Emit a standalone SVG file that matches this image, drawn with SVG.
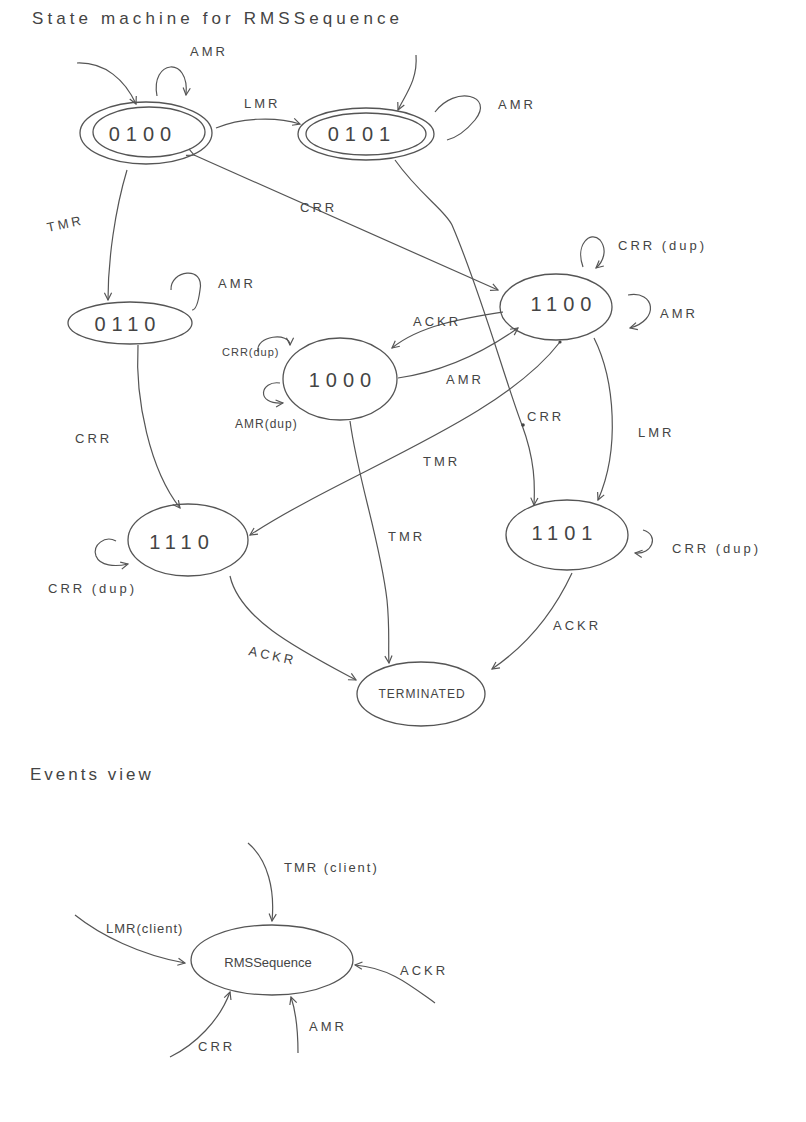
<svg xmlns="http://www.w3.org/2000/svg" width="806" height="1122" viewBox="0 0 806 1122">
<defs>
<marker id="arr" viewBox="0 0 10 10" refX="9" refY="5" markerWidth="9" markerHeight="9" orient="auto" markerUnits="userSpaceOnUse">
<path d="M1,1 L9,5 L1,9" fill="none" stroke="#555" stroke-width="1.3"/>
</marker>
</defs>
<style>
.n{fill:none;stroke:#555;stroke-width:1.3}
.e{fill:none;stroke:#555;stroke-width:1.2}
.t{font-family:"Liberation Sans",Arial,sans-serif;fill:#444}
.nl{font-size:20px;letter-spacing:6px;text-anchor:middle}
.l{font-size:13px;letter-spacing:3px}
.h{font-size:17px;letter-spacing:3px}
</style>
<rect width="806" height="1122" fill="#fff"/>
<text class="t h" x="32" y="24" textLength="370">State machine for RMSSequence</text>
<text class="t h" x="30" y="780">Events view</text>

<g id="connectors">
<path class="e" d="M77,63 C105,62 125,80 136,104" marker-end="url(#arr)"/>
<path class="e" d="M157,96 C150,60 190,55 186,95" marker-end="url(#arr)"/>
<path class="e" d="M216,128 C240,118 275,116 300,124" marker-end="url(#arr)"/>
<path class="e" d="M416,55 C418,80 405,95 398,110" marker-end="url(#arr)"/>
<path class="e" d="M435,112 C455,85 495,95 475,120 C465,132 455,138 447,140"/>
<path class="e" d="M127,170 C115,210 108,260 108,300" marker-end="url(#arr)"/>
<path class="e" d="M194,155 L498,290" marker-start="url(#arr)" marker-end="url(#arr)"/>
<path class="e" d="M395,160 C420,195 445,210 452,225 C480,290 505,380 522,425 C535,460 535,485 534,505" marker-end="url(#arr)"/>
<path class="e" d="M138,345 C135,400 150,470 180,508" marker-end="url(#arr)"/>
<path class="e" d="M171,290 C170,270 205,265 200,290 C198,305 195,310 192,310"/>
<path class="e" d="M503,312 C465,318 420,325 392,348" marker-end="url(#arr)"/>
<path class="e" d="M398,378 C440,372 480,355 518,328" marker-end="url(#arr)"/>
<path class="e" d="M560,342 C500,420 350,470 250,535" marker-end="url(#arr)"/>
<path class="e" d="M350,421 C358,480 380,540 387,600 C390,630 388,650 389,663" marker-end="url(#arr)"/>
<path class="e" d="M594,338 C615,380 620,450 598,500" marker-end="url(#arr)"/>
<path class="e" d="M572,573 C550,620 520,650 492,669" marker-end="url(#arr)"/>
<path class="e" d="M230,576 C240,620 300,650 356,680" marker-end="url(#arr)"/>
<path class="e" d="M583,267 C575,245 590,230 600,240 C608,250 603,262 596,268" marker-end="url(#arr)"/>
<path class="e" d="M628,295 C655,290 660,320 630,328" marker-end="url(#arr)"/>
<path class="e" d="M643,530 C660,535 652,555 635,553" marker-end="url(#arr)"/>
<path class="e" d="M280,383 C260,380 255,405 283,403" marker-end="url(#arr)"/>
<path class="e" d="M258,352 C255,335 290,332 290,345" marker-end="url(#arr)"/>
<path class="e" d="M116,541 C105,535 92,545 96,556 C100,566 115,567 128,564" marker-end="url(#arr)"/>
<path class="e" d="M248,843 C268,860 275,890 272,921" marker-end="url(#arr)"/>
<path class="e" d="M75,915 C100,935 140,955 185,963" marker-end="url(#arr)"/>
<path class="e" d="M435,1003 C410,985 390,968 355,965" marker-end="url(#arr)"/>
<path class="e" d="M170,1057 C195,1045 220,1020 230,992" marker-end="url(#arr)"/>
<path class="e" d="M298,1053 C298,1035 296,1012 291,997" marker-end="url(#arr)"/>
<circle cx="523" cy="425" r="1.8" fill="#444"/>
<circle cx="560" cy="342" r="1.6" fill="#444"/>
</g>

<g id="labels">
<text class="t l" x="190" y="56">AMR</text>
<text class="t l" x="244" y="108">LMR</text>
<text class="t l" x="498" y="109">AMR</text>
<text class="t l" x="48" y="232" transform="rotate(-12 48 232)">TMR</text>
<text class="t l" x="300" y="212">CRR</text>
<text class="t l" x="218" y="288">AMR</text>
<text class="t l" x="618" y="250">CRR (dup)</text>
<text class="t l" x="660" y="318">AMR</text>
<text class="t l" x="413" y="326">ACKR</text>
<text class="t l" x="222" y="356" style="font-size:11px;letter-spacing:1px">CRR(dup)</text>
<text class="t l" x="446" y="384">AMR</text>
<text class="t l" x="235" y="428" style="font-size:12px;letter-spacing:1px">AMR(dup)</text>
<text class="t l" x="527" y="421">CRR</text>
<text class="t l" x="75" y="443">CRR</text>
<text class="t l" x="423" y="466">TMR</text>
<text class="t l" x="638" y="437">LMR</text>
<text class="t l" x="388" y="541">TMR</text>
<text class="t l" x="672" y="553">CRR (dup)</text>
<text class="t l" x="48" y="593">CRR (dup)</text>
<text class="t l" x="553" y="630">ACKR</text>
<text class="t l" x="248" y="655" transform="rotate(12 248 655)">ACKR</text>
<text class="t l" x="284" y="872" style="letter-spacing:2px">TMR (client)</text>
<text class="t l" x="106" y="933" style="letter-spacing:1px">LMR(client)</text>
<text class="t l" x="400" y="975">ACKR</text>
<text class="t l" x="198" y="1051">CRR</text>
<text class="t l" x="309" y="1031">AMR</text>
</g>

<g id="n0100">
<ellipse class="n" cx="146" cy="133" rx="66" ry="31"/>
<ellipse class="n" cx="149" cy="132" rx="56" ry="25"/>
<text class="t nl" x="143" y="141">0100</text>
</g>
<g id="n0101">
<ellipse class="n" cx="366" cy="134" rx="68" ry="26"/>
<ellipse class="n" cx="366" cy="134" rx="60" ry="21"/>
<text class="t nl" x="362" y="141">0101</text>
</g>
<g id="n0110">
<ellipse class="n" cx="130" cy="323" rx="62" ry="21"/>
<text class="t nl" x="128" y="331">0110</text>
</g>
<g id="n1000">
<ellipse class="n" cx="340" cy="379" rx="57" ry="41"/>
<text class="t nl" x="343" y="387">1000</text>
</g>
<g id="n1100">
<ellipse class="n" cx="556" cy="307" rx="56" ry="33"/>
<text class="t nl" x="564" y="311">1100</text>
</g>
<g id="n1110">
<ellipse class="n" cx="188" cy="540" rx="60" ry="36"/>
<text class="t nl" x="182" y="549">1110</text>
</g>
<g id="n1101">
<ellipse class="n" cx="567" cy="535" rx="61" ry="35"/>
<text class="t nl" x="565" y="540">1101</text>
</g>
<g id="nTERMINATED">
<ellipse class="n" cx="421" cy="694" rx="64" ry="32"/>
<text class="t" x="422" y="698" text-anchor="middle" style="font-size:12px;letter-spacing:1px">TERMINATED</text>
</g>
<g id="nRMSSequence">
<ellipse class="n" cx="272" cy="960" rx="81" ry="35"/>
<text class="t" x="268" y="967" text-anchor="middle" style="font-size:13px">RMSSequence</text>
</g>
</svg>
